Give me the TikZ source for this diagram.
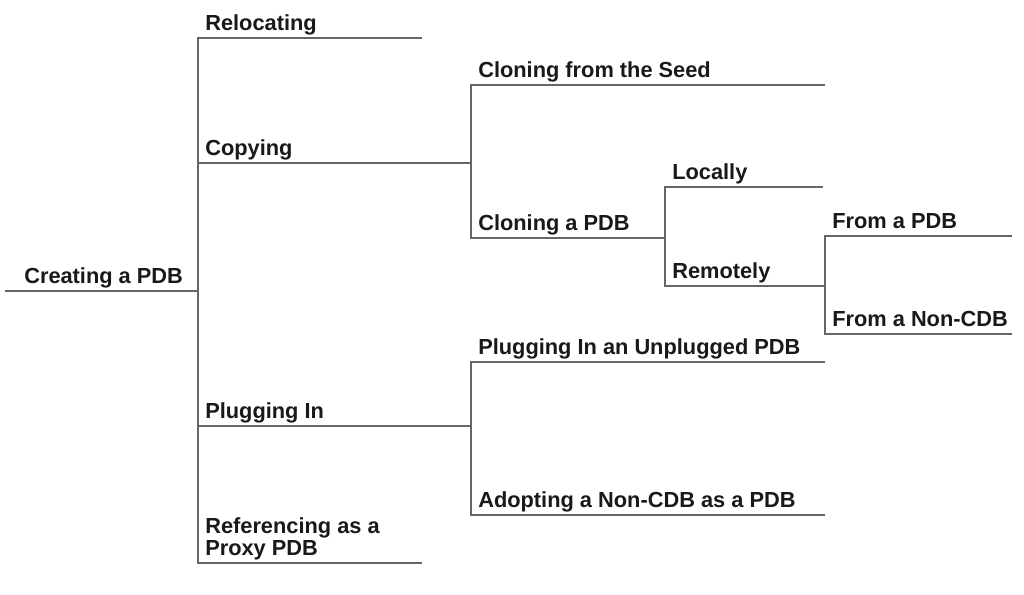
\documentclass[tikz,border=0pt]{standalone}
\usepackage{fontspec}
\setmainfont{Liberation Sans}
\usetikzlibrary{positioning}

\begin{document}
\begin{tikzpicture}[
        x=0.025cm, y=-0.025cm,
        font=\fontsize{15.5}{15.4}\selectfont\bfseries,
        branch/.style={
            draw=black!60,
            line width=1.5pt,
            line join=miter
        },
        entry/.style={
            anchor=base west,
            inner sep=0pt,
            align=left,
            xshift=0.175cm, yshift=0.19cm,
            text=black!90
        }
    ]
    \useasboundingbox (0,0) rectangle (1024,594);

    % line ends of the first level
    \coordinate (rootS) at (5,291);
    \coordinate (rootE) at (198,291);
    \coordinate (relocS) at (198,38);
    \coordinate (relocE) at (422,38);
    \coordinate (copyS) at (198,163);
    \coordinate (copyE) at (471,163);
    \coordinate (plugS) at (198,426);
    \coordinate (plugE) at (471,426);
    \coordinate (proxyS) at (198,563);
    \coordinate (proxyE) at (422,563);

    % second and deeper levels
    \coordinate (seedS) at (471,85);
    \coordinate (seedE) at (825,85);
    \coordinate (cloneS) at (471,238);
    \coordinate (cloneE) at (665,238);
    \coordinate (localS) at (665,187);
    \coordinate (localE) at (823,187);
    \coordinate (remoteS) at (665,286);
    \coordinate (remoteE) at (825,286);
    \coordinate (fpdbS) at (825,236);
    \coordinate (fpdbE) at (1012,236);
    \coordinate (fnonS) at (825,334);
    \coordinate (fnonE) at (1012,334);
    \coordinate (unplugS) at (471,362);
    \coordinate (unplugE) at (825,362);
    \coordinate (adoptS) at (471,515);
    \coordinate (adoptE) at (825,515);

    \node[entry, xshift=0.3cm] (root) at (rootS) {Creating a PDB};
    \node[entry] (reloc) at (relocS) {Relocating};
    \node[entry] (copy) at (copyS) {Copying};
    \node[entry] (plug) at (plugS) {Plugging In};
    \node[entry, anchor=south west, yshift=-0.11cm] (proxy) at (proxyS) {Referencing as a\\Proxy PDB};
    \node[entry] (seed) at (seedS) {Cloning from the Seed};
    \node[entry] (clone) at (cloneS) {Cloning a PDB};
    \node[entry] (local) at (localS) {Locally};
    \node[entry] (remote) at (remoteS) {Remotely};
    \node[entry] (fpdb) at (fpdbS) {From a PDB};
    \node[entry] (fnon) at (fnonS) {From a Non-CDB};
    \node[entry] (unplug) at (unplugS) {Plugging In an Unplugged PDB};
    \node[entry] (adopt) at (adoptS) {Adopting a Non-CDB as a PDB};

    \draw[branch] (rootS) -- (rootE);
    \draw[branch] (relocE) -- (relocS) -- (proxyS) -- (proxyE);
    \draw[branch] (copyS) -- (copyE);
    \draw[branch] (plugS) -- (plugE);

    \draw[branch] (seedE) -- (seedS) -- (cloneS) -- (cloneE);
    \draw[branch] (localE) -- (localS) -- (remoteS) -- (remoteE);
    \draw[branch] (fpdbE) -- (fpdbS) -- (fnonS) -- (fnonE);
    \draw[branch] (unplugE) -- (unplugS) -- (adoptS) -- (adoptE);

\end{tikzpicture}
\end{document}
